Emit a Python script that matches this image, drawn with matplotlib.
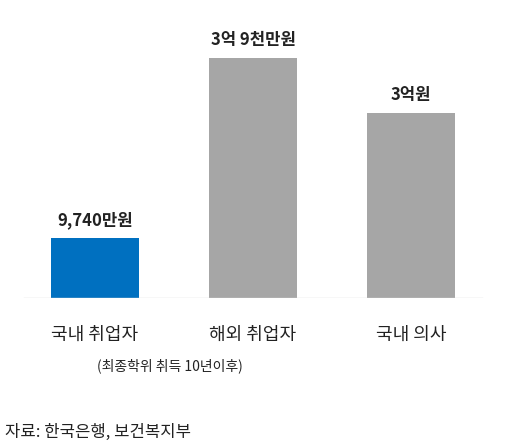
import matplotlib
matplotlib.use('Agg')
import matplotlib.pyplot as plt

plt.rcParams['font.family'] = ['Noto Sans CJK KR', 'DejaVu Sans']

categories = ['국내 취업자', '해외 취업자', '국내 의사']
values = [9740, 39000, 30000]  # 만원
value_labels = ['9,740만원', '3억 9천만원', '3억원']
colors = ['#0070c0', '#a6a6a6', '#a6a6a6']

fig = plt.figure(figsize=(5.14, 4.47), dpi=100)
ax = fig.add_axes([0, 1 - 298 / 447, 1, 278 / 447])
xs = range(len(categories))
ax.bar(xs, values, width=0.56, color=colors)
for x, v, lab in zip(xs, values, value_labels):
    ax.text(x, v + 1500, lab, ha='center', va='bottom', fontsize=12,
            fontweight='bold', color='#222222')
ax.plot([-0.45, 2.45], [0, 0], color='#d9d9d9', lw=1)
ax.set_xlim(-95 / 158, (514 - 95) / 158)
ax.set_ylim(0, 39000 * 278 / 240)
ax.axis('off')

for x, c in zip(xs, categories):
    fig.text((95 + 158 * x) / 514, 1 - 335 / 447, c, ha='center', va='center',
             fontsize=13, fontweight='medium', color='#222222')
fig.text(170 / 514, 1 - 366 / 447, '(최종학위 취득 10년이후)', ha='center',
         va='center', fontsize=10, color='#222222')
fig.text(0.01, 1 - 432 / 447, '자료: 한국은행, 보건복지부', ha='left', va='center',
         fontsize=12, color='#222222')

fig.savefig('out.png', dpi=100)
